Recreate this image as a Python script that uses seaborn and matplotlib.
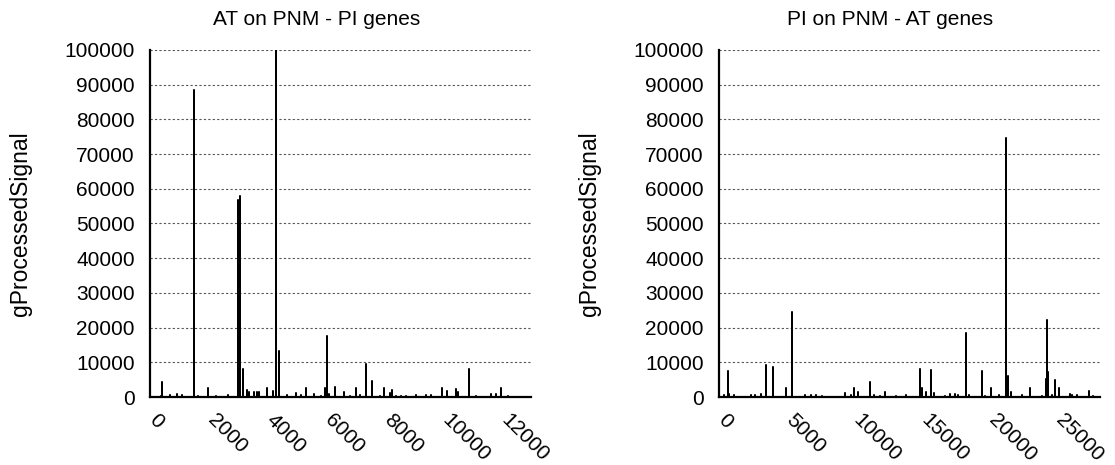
import numpy as np
import pandas as pd
import matplotlib
matplotlib.use("Agg")
import matplotlib.pyplot as plt
import matplotlib.transforms as mtransforms
import seaborn as sns

# ---- data: spike positions (gene index) and signal heights ----
left_title = "AT on PNM - PI genes"
left_pos = [364, 420, 682, 909, 1079, 1511, 1647, 1988, 2249, 2670, 2988, 3010, 3067,
            3181, 3317, 3385, 3544, 3635, 3726, 3976, 4180, 4283, 4385, 4658, 4976,
            5169, 5339, 5589, 5850, 5987, 6032, 6100, 6328, 6612, 6816, 7020, 7157,
            7361, 7577, 7838, 7986, 8179, 8270, 8406, 8577, 8747, 9088, 9429, 9599,
            9963, 10122, 10428, 10508, 10872, 11133, 11644, 11814, 11962, 12212]
left_val = [200, 4300, 500, 800, 500, 88600, 300, 2700, 400, 700, 6600, 56700, 58000,
            8000, 1900, 1300, 1500, 1500, 1500, 2700, 1700, 100000, 13300, 700, 1200,
            500, 2700, 1000, 300, 2700, 17700, 900, 2800, 1400, 400, 2700, 500,
            9400, 4600, 300, 2700, 1100, 1900, 400, 400, 400, 600, 700, 500,
            2700, 1700, 2200, 1300, 8200, 300, 900, 900, 2700, 200]
left_xmax = 13000
left_xticks = [0, 2000, 4000, 6000, 8000, 10000, 12000]

right_title = "PI on PNM - AT genes"
right_pos = [370, 642, 741, 1111, 2395, 2691, 3136, 3457, 4025, 4938, 5432, 6395, 6839,
             7209, 7654, 9333, 9802, 10000, 10296, 11209, 11481, 11901, 12296, 13135,
             13826, 14913, 15061, 15308, 15678, 15900, 16715, 17085, 17456, 17653,
             18246, 18518, 19456, 19703, 20122, 20715, 21233, 21357, 21604, 22419,
             23036, 23875, 24172, 24270, 24369, 24641, 24887, 25159, 25974, 26122,
             26517, 27356, 27702]
right_val = [600, 7400, 1000, 500, 600, 600, 900, 9100, 8700, 2700, 24500, 700, 500,
             500, 400, 1100, 700, 2700, 1400, 4400, 600, 400, 1400, 300,
             600, 8000, 2700, 1300, 7800, 1100, 300, 1000, 800, 600,
             18500, 600, 7500, 400, 2700, 600, 74500, 6000, 1400, 700,
             2500, 300, 5100, 22100, 7300, 600, 4900, 2700, 1000, 700,
             500, 1650, 200]
right_xmax = 28200
right_xticks = [0, 5000, 10000, 15000, 20000, 25000]

y_ticks = list(range(0, 100001, 10000))
y_label = "gProcessedSignal"

sns.set_theme(style="white")
plt.rcParams["font.family"] = ["Liberation Sans", "DejaVu Sans"]

fig = plt.figure(figsize=(11.15, 4.65), dpi=100)
ax1 = fig.add_axes([150 / 1115, 1 - 397 / 465, 381 / 1115, 347 / 465])
ax2 = fig.add_axes([719 / 1115, 1 - 397 / 465, 381 / 1115, 347 / 465])


def spikes(pos, val, xmax):
    xs, ys = [0], [0]
    for p, v in zip(pos, val):
        xs += [p, p, p]
        ys += [0, v, 0]
    xs.append(xmax)
    ys.append(0)
    return pd.DataFrame({"x": xs, "y": ys})


panels = [
    (ax1, left_title, left_pos, left_val, left_xmax, left_xticks, 0.438),
    (ax2, right_title, right_pos, right_val, right_xmax, right_xticks, 0.449),
]
shift = mtransforms.ScaledTranslation(9 / 100, 0, fig.dpi_scale_trans)
for ax, title, pos, val, xmax, xt, tx in panels:
    df = spikes(pos, val, xmax)
    sns.lineplot(data=df, x="x", y="y", ax=ax, sort=False, estimator=None,
                 color="black", linewidth=1.1)
    ax.set_xlim(0, xmax)
    ax.set_ylim(0, 100000)
    ax.tick_params(axis="y", length=0, pad=11, labelsize=15, labelcolor="black")
    ax.tick_params(axis="x", length=0, pad=10, labelsize=15, labelcolor="black")
    ax.set_yticks(y_ticks)
    ax.set_yticklabels([str(t) for t in y_ticks])
    ax.set_xticks(xt)
    ax.set_xticklabels([str(t) for t in xt], rotation=-45, ha="left", va="top",
                       rotation_mode="anchor")
    for tick in ax.xaxis.get_major_ticks():
        tick.label1.set_transform(tick.label1.get_transform() + shift)
    ax.yaxis.grid(True, color="#555555", linestyle=(0, (2, 2)), linewidth=0.8)
    ax.xaxis.grid(False)
    ax.set_axisbelow(True)
    for s in ["top", "right"]:
        ax.spines[s].set_visible(False)
    for s in ["left", "bottom"]:
        ax.spines[s].set_color("black")
        ax.spines[s].set_linewidth(1.6)
    ax.set_xlabel("")
    ax.set_ylabel(y_label, fontsize=16.5, color="black", labelpad=23)
    ax.set_title(title, fontsize=15, color="black", x=tx, pad=18)

fig.savefig("out.png", dpi=100)
